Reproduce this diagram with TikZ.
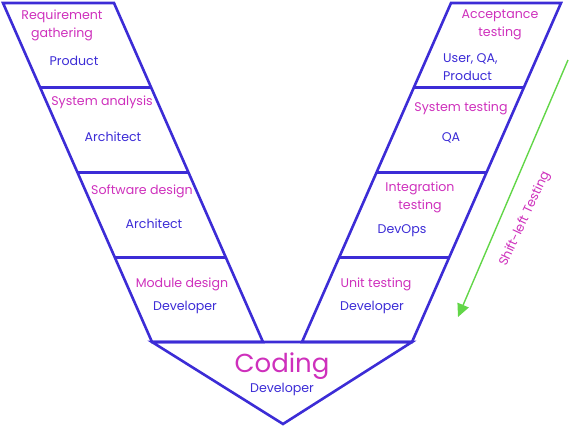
\documentclass[tikz,border=0pt]{standalone}
\usepackage{fontspec}
\setmainfont{Poppins}
\usetikzlibrary{arrows.meta,calc}

\definecolor{vblue}{RGB}{60,44,214}
\definecolor{vpink}{RGB}{206,48,188}
\definecolor{vgreen}{RGB}{98,214,72}

\begin{document}
\begin{tikzpicture}[x=1pt,y=1pt,>={Triangle[length=13pt,width=12pt]},
    edge/.style={draw=vblue,line width=2.6pt},
    phase/.style={text=vpink,font=\fontsize{12.6}{18}\selectfont,align=center,inner sep=0pt},
    role/.style={text=vblue,font=\fontsize{12.6}{18}\selectfont,align=center,inner sep=0pt}]
    \useasboundingbox (0,0) rectangle (582,429);
    % left arm
    \coordinate (L1) at (3,426); \coordinate (L2) at (114,426);
    \coordinate (L3) at (263,87); \coordinate (L4) at (152,87);
    \draw[edge] (L1) -- (L2) -- (L3) -- (L4) -- cycle;
    \foreach \t in {0.25,0.5,0.75}
        \draw[edge] ($(L1)!\t!(L4)$) -- ($(L2)!\t!(L3)$);
    % right arm
    \coordinate (R1) at (451,426); \coordinate (R2) at (561,426);
    \coordinate (R3) at (412,87); \coordinate (R4) at (302,87);
    \draw[edge] (R1) -- (R2) -- (R3) -- (R4) -- cycle;
    \foreach \t in {0.25,0.5,0.75}
        \draw[edge] ($(R1)!\t!(R4)$) -- ($(R2)!\t!(R3)$);
    % coding
    \coordinate (tip) at (283,5);
    \draw[edge] (L4) -- (R3) -- (tip) -- cycle;

    \node[phase] (reqPhase) at (62,403.5) {Requirement\\gathering};
    \node[role] (reqRole) at (74,368) {Product};
    \node[phase] (sysPhase) at (102,327) {System analysis};
    \node[role] (sysRole) at (113,292) {Architect};
    \node[phase] (swPhase) at (142,238) {Software design};
    \node[role] (swRole) at (154,205) {Architect};
    \node[phase] (modPhase) at (182,145) {Module design};
    \node[role] (modRole) at (185,122) {Developer};

    \node[phase] (accPhase) at (500,404) {Acceptance\\testing};
    \node[role,align=left,anchor=west] (accRole) at (443,362) {User, QA,\\Product};
    \node[phase] (stPhase) at (461,321) {System testing};
    \node[role] (stRole) at (451,291) {QA};
    \node[phase] (intPhase) at (420,231.5) {Integration\\testing};
    \node[role] (intRole) at (402,198) {DevOps};
    \node[phase] (unitPhase) at (376,145) {Unit testing};
    \node[role] (unitRole) at (372,122) {Developer};

    \node[phase,font=\fontsize{26}{30}\selectfont] (codPhase) at (282,63) {Coding};
    \node[role] (codRole) at (282,40) {Developer};

    % shift-left
    \coordinate (sTop) at (568,369);
    \coordinate (sEnd) at (458,112);
    \draw[vgreen,line width=1.4pt,->] (sTop) -- (sEnd);
    \node[phase,rotate=65] (shift) at (525,210) {Shift-left Testing};
\end{tikzpicture}
\end{document}
